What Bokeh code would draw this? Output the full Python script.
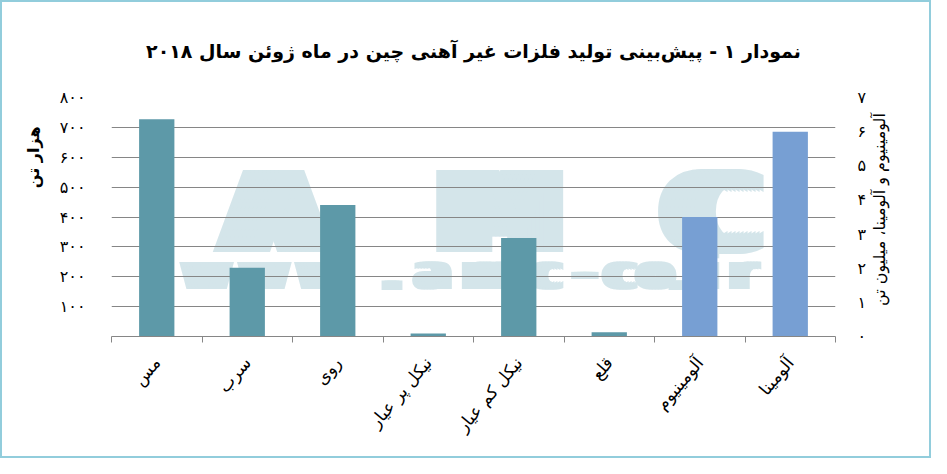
import math
from bokeh.plotting import figure
from bokeh.models import Range1d, LinearAxis, FixedTicker, ColumnDataSource, Title
from bokeh.core.properties import value
from bokeh.embed import file_html
from bokeh.resources import INLINE

# ---- data ----
categories = ["مس", "سرب", "روی", "نیکل پر عیار", "نیکل کم عیار", "قلع", "آلومینیوم", "آلومینا"]
kt_categories = categories[:6]          # thousand tonnes (left axis)
kt_values = [727, 230, 440, 10, 330, 14]
mt_categories = categories[6:]          # million tonnes (right axis)
mt_values = [3.5, 6.0]
left_ticks = [100, 200, 300, 400, 500, 600, 700, 800]
left_tick_labels = ["۱۰۰", "۲۰۰", "۳۰۰", "۴۰۰", "۵۰۰", "۶۰۰", "۷۰۰", "۸۰۰"]
right_ticks = [0, 1, 2, 3, 4, 5, 6, 7]
right_tick_labels = ["۰", "۱", "۲", "۳", "۴", "۵", "۶", "۷"]
title_text = "نمودار ۱ - پیش\u200cبینی تولید فلزات غیر آهنی چین در ماه ژوئن سال ۲۰۱۸"
left_title = "هزار تن"
right_title = "آلومینیوم و آلومینا، میلیون تن"

# watermark (decoration)
wm_big = ["A", "M", "C"]
wm_big_x = [1.79, 4.29, 6.63]
wm_small = list("www.amc-co.ir")
wm_small_x = [1.05, 1.69, 2.32, 3.10, 3.55, 4.18, 4.80, 5.23, 5.62, 6.01, 6.27, 6.60, 6.98]

FONT = "DejaVu Sans"
TEAL = "#5d99a8"
BLUE = "#779fd3"
GRID = "#868686"
WM = "#d4e5ea"

n = len(categories)
pos = {c: i + 0.5 for i, c in enumerate(categories)}

p = figure(width=931, height=458, x_range=Range1d(0, n), y_range=Range1d(0, 800),
           output_backend="svg", toolbar_location=None,
           min_border_left=109, min_border_right=98, min_border_top=94, min_border_bottom=124)
p.extra_y_ranges = {"right": Range1d(0, 7)}
p.outline_line_color = None
p.background_fill_color = "white"
p.border_fill_color = "white"
p.styles = {"border": "2px solid #92cddc"}

p.title.text = title_text
p.title.align = "center"
p.title.text_font = FONT
p.title.text_font_size = "19px"
p.title.text_font_style = "bold"
p.title.text_color = "black"
p.title.standoff = 71

# grid
p.xgrid.visible = False
p.ygrid.grid_line_color = GRID
p.ygrid.grid_line_width = 1

# watermark, drawn beneath the grid (level "image")
for off in range(-18, 19, 4):
    p.text(x=wm_big_x, y=[412] * len(wm_big), text=wm_big, x_offset=off, text_font=value(FONT),
           text_font_style="bold", text_font_size="112px", text_align="center",
           text_baseline="middle", text_color=WM, level="image")
for off in range(-6, 7, 3):
    p.text(x=wm_small_x, y=[217] * len(wm_small), text=wm_small, x_offset=off, text_font=value(FONT),
           text_font_style="bold", text_font_size="50px", text_align="center",
           text_baseline="middle", text_color=WM, level="image")

# bars
src_kt = ColumnDataSource(dict(x=[pos[c] for c in kt_categories], top=kt_values))
src_mt = ColumnDataSource(dict(x=[pos[c] for c in mt_categories], top=mt_values))
p.vbar(x="x", top="top", width=0.39, source=src_kt, fill_color=TEAL, line_color=None)
p.vbar(x="x", top="top", width=0.39, source=src_mt, fill_color=BLUE, line_color=None,
       y_range_name="right")

# left axis
ya = p.yaxis[0]
ya.ticker = FixedTicker(ticks=left_ticks)
ya.major_label_overrides = {t: l for t, l in zip(left_ticks, left_tick_labels)}
ya.axis_line_color = None
ya.major_tick_line_color = None
ya.minor_tick_line_color = None
ya.major_label_standoff = 20
ya.major_label_text_font = FONT
ya.major_label_text_font_size = "16px"
ya.major_label_text_color = "black"

# right axis
ra = LinearAxis(y_range_name="right", ticker=FixedTicker(ticks=right_ticks))
ra.major_label_overrides = {t: l for t, l in zip(right_ticks, right_tick_labels)}
ra.axis_line_color = None
ra.major_tick_line_color = None
ra.minor_tick_line_color = None
ra.major_label_standoff = 16
ra.major_label_text_font = FONT
ra.major_label_text_font_size = "16px"
ra.major_label_text_color = "black"
ra.axis_label = "\u00a0" * 6 + right_title
ra.axis_label_text_font = FONT
ra.axis_label_text_font_size = "16px"
ra.axis_label_text_font_style = "normal"
ra.axis_label_text_color = "black"
ra.axis_label_standoff = 10
ra_props = ra.properties()
if "axis_label_orientation" in ra_props:
    ra.axis_label_orientation = math.pi / 2
if "axis_label_align" in ra_props:
    ra.axis_label_align = "start"
p.add_layout(ra, "right")

# left axis title
lt = Title(text=left_title, align="right", offset=29, standoff=28, text_font=FONT,
           text_font_size="16px", text_font_style="bold", text_color="black")
p.add_layout(lt, "left")

# bottom axis
xa = p.xaxis[0]
xa.ticker = FixedTicker(ticks=[pos[c] for c in categories], minor_ticks=list(range(n + 1)))
xa.major_label_overrides = {pos[c]: c for c in categories}
xa.major_tick_in = 0
xa.major_tick_out = 0
xa.minor_tick_in = 0
xa.minor_tick_out = 6
xa.minor_tick_line_color = GRID
xa.axis_line_color = GRID
xa.major_label_orientation = 0.87
xa.major_label_standoff = 17
xa.major_label_text_font = FONT
xa.major_label_text_font_size = "17px"
xa.major_label_text_color = "black"

open("out.html", "w").write(file_html(p, INLINE))
